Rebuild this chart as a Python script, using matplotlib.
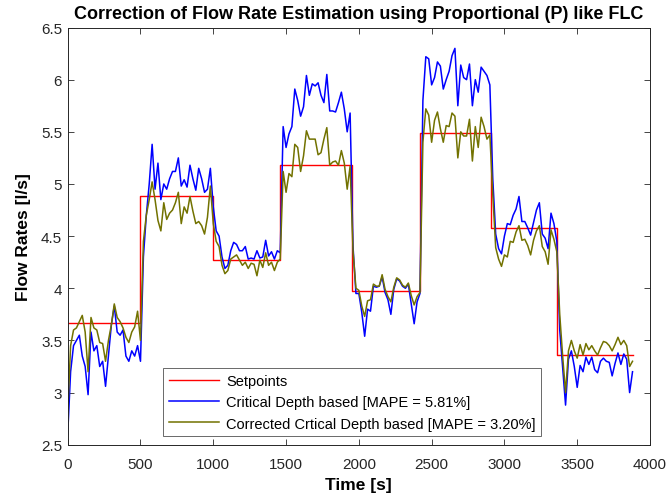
import numpy as np
import matplotlib
matplotlib.use("Agg")
import matplotlib.pyplot as plt

plt.rcParams['font.family'] = ['Liberation Sans', 'DejaVu Sans']

# Sampling grid of the logged flow estimates [s]
time_s = np.arange(0, 3881, 20)

# Setpoint schedule (step changes)
setpoint_times = [0, 500, 1000, 1460, 1950, 2420, 2910, 3360, 3880]
setpoint_values = [3.67, 4.88, 4.27, 5.18, 3.97, 5.49, 4.58, 3.36]

# Critical-depth based flow estimate [l/s]
critical_depth = [
    # 0 - 480 s
    2.60, 3.20, 3.45, 3.50, 3.55, 3.35, 3.25, 2.98, 3.58, 3.40, 3.45, 3.25, 3.30,
    3.06, 3.35, 3.65, 3.83, 3.58, 3.55, 3.60, 3.35, 3.30, 3.40, 3.35, 3.45,
    # 500 - 980 s
    3.30, 4.30, 4.70, 5.00, 5.38, 4.95, 5.20, 4.85, 5.00, 4.95, 5.05, 5.12, 5.12,
    5.25, 4.98, 5.04, 4.97, 5.18, 5.05, 4.94, 5.15, 5.05, 4.92, 4.95, 5.15,
    # 1000 - 1460 s
    4.78, 4.55, 4.50, 4.30, 4.19, 4.22, 4.36, 4.44, 4.42, 4.36, 4.36, 4.40,
    4.28, 4.29, 4.28, 4.36, 4.29, 4.30, 4.46, 4.31, 4.35, 4.28, 4.36, 4.34,
    # 1480 - 1940 s
    5.55, 5.35, 5.48, 5.55, 5.91, 5.80, 5.65, 5.74, 6.04, 5.85, 5.96, 5.94,
    5.97, 5.85, 5.78, 6.05, 5.70, 5.70, 5.69, 5.78, 5.88, 5.72, 5.50, 5.68,
    # 1960 - 2420 s
    4.40, 3.95, 3.95, 3.77, 3.54, 3.80, 3.78, 4.02, 4.01, 4.02, 4.11, 3.96,
    3.89, 3.75, 3.99, 4.09, 4.07, 4.02, 4.00, 4.04, 3.85, 3.66, 3.87, 3.95,
    # 2440 - 2900 s
    5.80, 6.22, 6.20, 5.95, 6.02, 6.17, 6.13, 5.91, 6.00, 6.08, 6.23, 6.30,
    5.75, 6.14, 6.02, 6.00, 6.15, 5.75, 6.00, 5.88, 6.12, 6.08, 6.04, 5.95,
    # 2920 - 3360 s
    5.05, 4.52, 4.38, 4.33, 4.50, 4.62, 4.61, 4.70, 4.76, 4.88, 4.64, 4.64,
    4.58, 4.51, 4.63, 4.75, 4.82, 4.52, 4.48, 4.38, 4.72, 4.62, 4.45,
    # 3380 - 3880 s
    3.60, 3.24, 2.88, 3.32, 3.40, 3.25, 3.05, 3.26, 3.20, 3.34, 3.27, 3.34, 3.22,
    3.19, 3.30, 3.33, 3.30, 3.29, 3.16, 3.28, 3.38, 3.27, 3.37, 3.32, 3.00, 3.20,
]

# Flow estimate after the P-like fuzzy correction [l/s]
corrected = [
    # 0 - 480 s
    2.80, 3.45, 3.60, 3.62, 3.68, 3.74, 3.58, 3.20, 3.72, 3.62, 3.60, 3.48, 3.47,
    3.30, 3.50, 3.65, 3.85, 3.72, 3.68, 3.62, 3.53, 3.48, 3.58, 3.63, 3.78,
    # 500 - 980 s
    3.50, 4.45, 4.70, 4.85, 5.02, 4.85, 4.65, 4.55, 4.82, 4.66, 4.72, 4.75, 4.82,
    4.92, 4.62, 4.78, 4.72, 4.88, 4.74, 4.62, 4.64, 4.60, 4.52, 4.68, 4.98,
    # 1000 - 1460 s
    4.62, 4.45, 4.40, 4.22, 4.14, 4.17, 4.28, 4.30, 4.32, 4.27, 4.22, 4.25,
    4.19, 4.24, 4.23, 4.12, 4.27, 4.20, 4.34, 4.22, 4.25, 4.17, 4.25, 4.28,
    # 1480 - 1940 s
    5.12, 4.92, 5.10, 5.07, 5.38, 5.35, 5.12, 5.27, 5.51, 5.43, 5.43, 5.43,
    5.28, 5.30, 5.43, 5.54, 5.18, 5.21, 5.22, 5.18, 5.32, 5.20, 4.95, 5.17,
    # 1960 - 2420 s
    4.36, 4.00, 3.98, 3.83, 3.73, 3.88, 3.89, 4.04, 4.02, 4.02, 4.13, 3.99,
    3.92, 3.87, 4.01, 4.10, 4.08, 4.03, 4.01, 4.05, 3.93, 3.84, 3.92, 3.96,
    # 2440 - 2900 s
    5.40, 5.72, 5.66, 5.40, 5.61, 5.69, 5.53, 5.40, 5.56, 5.55, 5.68, 5.65,
    5.25, 5.50, 5.46, 5.46, 5.62, 5.22, 5.55, 5.35, 5.64, 5.55, 5.43, 5.47,
    # 2920 - 3360 s
    4.90, 4.39, 4.28, 4.21, 4.32, 4.30, 4.45, 4.44, 4.54, 4.60, 4.46, 4.47,
    4.41, 4.32, 4.46, 4.55, 4.60, 4.40, 4.35, 4.23, 4.56, 4.47, 4.35,
    # 3380 - 3880 s
    3.75, 3.35, 3.00, 3.40, 3.50, 3.40, 3.33, 3.46, 3.36, 3.47, 3.41, 3.45, 3.40,
    3.36, 3.43, 3.49, 3.48, 3.45, 3.40, 3.46, 3.53, 3.46, 3.50, 3.45, 3.25, 3.30,
]

labels = ["Setpoints",
          "Critical Depth based [MAPE = 5.81%]",
          "Corrected Crtical Depth based [MAPE = 3.20%]"]

fig = plt.figure(figsize=(6.67, 5.02), dpi=100)
ax = fig.add_axes([0.1015, 0.1121, 0.873, 0.8311])

sp_y = setpoint_values + [setpoint_values[-1]]
ax.step(setpoint_times, sp_y, where='post', color='#ff0000', lw=1.0, label=labels[0])
ax.plot(time_s, critical_depth, color='#0000ff', lw=1.1, label=labels[1])
ax.plot(time_s, corrected, color='#727200', lw=1.1, label=labels[2])

ax.set_xlim(0, 4000)
ax.set_ylim(2.5, 6.5)
ax.set_xticks(np.arange(0, 4001, 500))
ax.set_yticks(np.arange(2.5, 6.51, 0.5))
ax.set_yticklabels(["2.5", "3", "3.5", "4", "4.5", "5", "5.5", "6", "6.5"])
ax.tick_params(direction='in', top=True, right=True, labelsize=11,
               length=4, width=0.6, colors='#262626', pad=4)
ax.tick_params(axis='x', pad=9)
for s in ax.spines.values():
    s.set_linewidth(0.7)
    s.set_color('#262626')

ax.set_xlabel("Time [s]", fontsize=12.5, fontweight='bold', labelpad=4)
ax.set_ylabel("Flow Rates [l/s]", fontsize=12.5, fontweight='bold', labelpad=7)
ax.set_title("Correction of Flow Rate Estimation using Proportional (P) like FLC",
             fontsize=13, fontweight='bold', pad=7)

leg = ax.legend(loc='lower left', bbox_to_anchor=(0.164, 0.02), fontsize=10.5,
                frameon=True, fancybox=False, handlelength=3.4, borderpad=0.4,
                labelspacing=0.5, handletextpad=0.5, borderaxespad=0.0)
leg.get_frame().set_edgecolor('#262626')
leg.get_frame().set_linewidth(0.6)

fig.savefig("out.png", dpi=100)
